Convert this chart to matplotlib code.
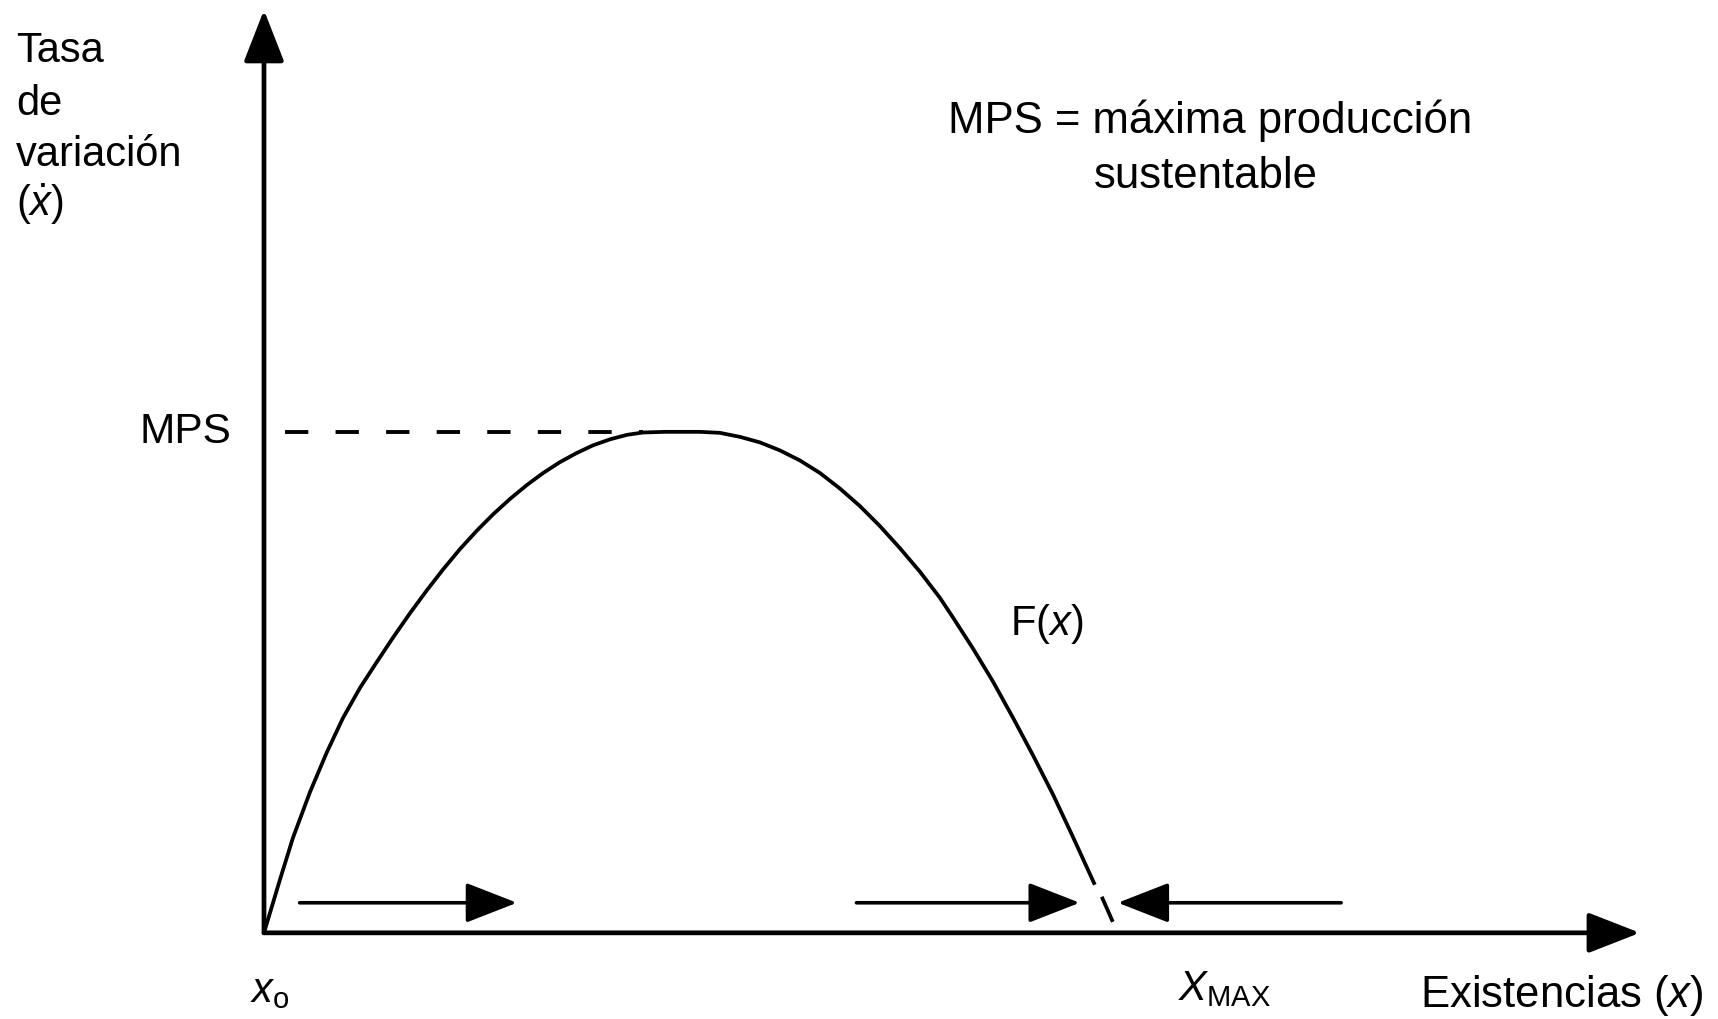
import matplotlib.pyplot as plt
from matplotlib.patches import FancyArrowPatch

plt.rcParams["font.family"] = ["Liberation Sans", "DejaVu Sans"]
plt.rcParams["mathtext.fontset"] = "custom"
plt.rcParams["mathtext.rm"] = "Liberation Sans"
plt.rcParams["mathtext.it"] = "Liberation Sans:italic"

# F(x): stock (x) vs growth rate, MPS = 100, X_MAX = 100
stock = [0, 1.88, 3.42, 5.42, 7.42, 9.31, 11.31, 13.31, 15.19, 17.20, 19.20,
         21.08, 23.09, 25.09, 26.97, 28.98, 30.98, 32.86, 34.86, 36.87, 38.75,
         40.75, 42.76, 44.64, 47.23, 51.35, 53.71, 56.07, 58.42, 60.78, 63.13,
         65.49, 67.84, 70.20, 72.56, 74.91, 77.27, 79.62, 81.15, 83.51, 85.87,
         88.22, 90.58, 92.93, 95.29, 97.88]
growth = [0, 10.6, 19.0, 28.1, 36.1, 42.9, 48.9, 54.1, 58.9, 63.8, 68.4,
          72.5, 76.6, 80.3, 83.5, 86.6, 89.4, 91.75, 93.95, 95.8, 97.3,
          98.5, 99.4, 99.87, 100, 100, 99.8, 99.0, 97.9, 96.3, 94.3,
          91.8, 88.7, 85.2, 81.2, 76.8, 72.1, 66.9, 63.0, 56.8, 50.2,
          43.0, 35.5, 27.7, 19.2, 9.6]
# short piece of the curve below the gap, next to X_MAX
stock_tail = [98.7, 100.0]
growth_tail = [7.2, 2.2]

mps = 100
mps_stock = 44.6

# flow arrows along the stock axis (start, end)
flow_start = [4.2, 69.8, 126.9]
flow_end = [29.8, 96.1, 100.6]
flow_level = 6.0

x_axis_end = 162.1
y_axis_end = 184.2

fig = plt.figure(figsize=(17.18, 10.19), dpi=100)
ax = fig.add_axes([0, 0, 1, 1])
ax.set_xlim(-31.1, 171.3)
ax.set_ylim(-17.2, 186.2)
ax.axis("off")

lw = 2.7
ax.plot(stock, growth, color="black", lw=lw, solid_capstyle="butt",
        solid_joinstyle="round")
ax.plot(stock_tail, growth_tail, color="black", lw=lw, solid_capstyle="butt")
ax.plot([2.5, mps_stock], [mps, mps], color="black", lw=2.8,
        dashes=[6.0, 7.0])


def arrow(x0, y0, x1, y1, width):
    ax.add_patch(FancyArrowPatch(
        (x0, y0), (x1, y1),
        arrowstyle="-|>,head_length=32,head_width=12.5",
        mutation_scale=1, lw=width, color="black",
        shrinkA=0, shrinkB=0))


# axes
arrow(0, 0, 0, y_axis_end, 3.4)
arrow(0, 0, x_axis_end, 0, 3.4)

for s, e in zip(flow_start, flow_end):
    arrow(s, flow_level, e, flow_level, 2.6)

fs = 30
big = 31.5
ax.text(-3.8, mps, "MPS", fontsize=30.5, ha="right", va="center")
ax.text(-29.2, 173.9, "Tasa", fontsize=fs, va="baseline")
ax.text(-29.2, 163.3, "de", fontsize=fs, va="baseline")
ax.text(-29.2, 153.0, "variación", fontsize=fs, va="baseline")
ax.text(-29.2, 143.1, r"($\dot{x}$)", fontsize=fs, va="baseline")
ax.text(111.5, 159.7, "MPS = máxima producción", fontsize=big,
        ha="center", va="baseline")
ax.text(111.0, 148.7, "sustentable", fontsize=big, ha="center", va="baseline")
ax.text(87.9, 59.5, r"F($x$)", fontsize=fs, va="baseline")
ax.text(107.7, -13.4, r"$X_{\mathrm{MAX}}$", fontsize=fs, va="baseline")
ax.text(-1.6, -13.8, r"$x_{\mathrm{o}}$", fontsize=fs, va="baseline")
ax.text(136.2, -14.8, r"Existencias ($x$)", fontsize=big, va="baseline")

fig.savefig("out.png", dpi=100, facecolor="white")
